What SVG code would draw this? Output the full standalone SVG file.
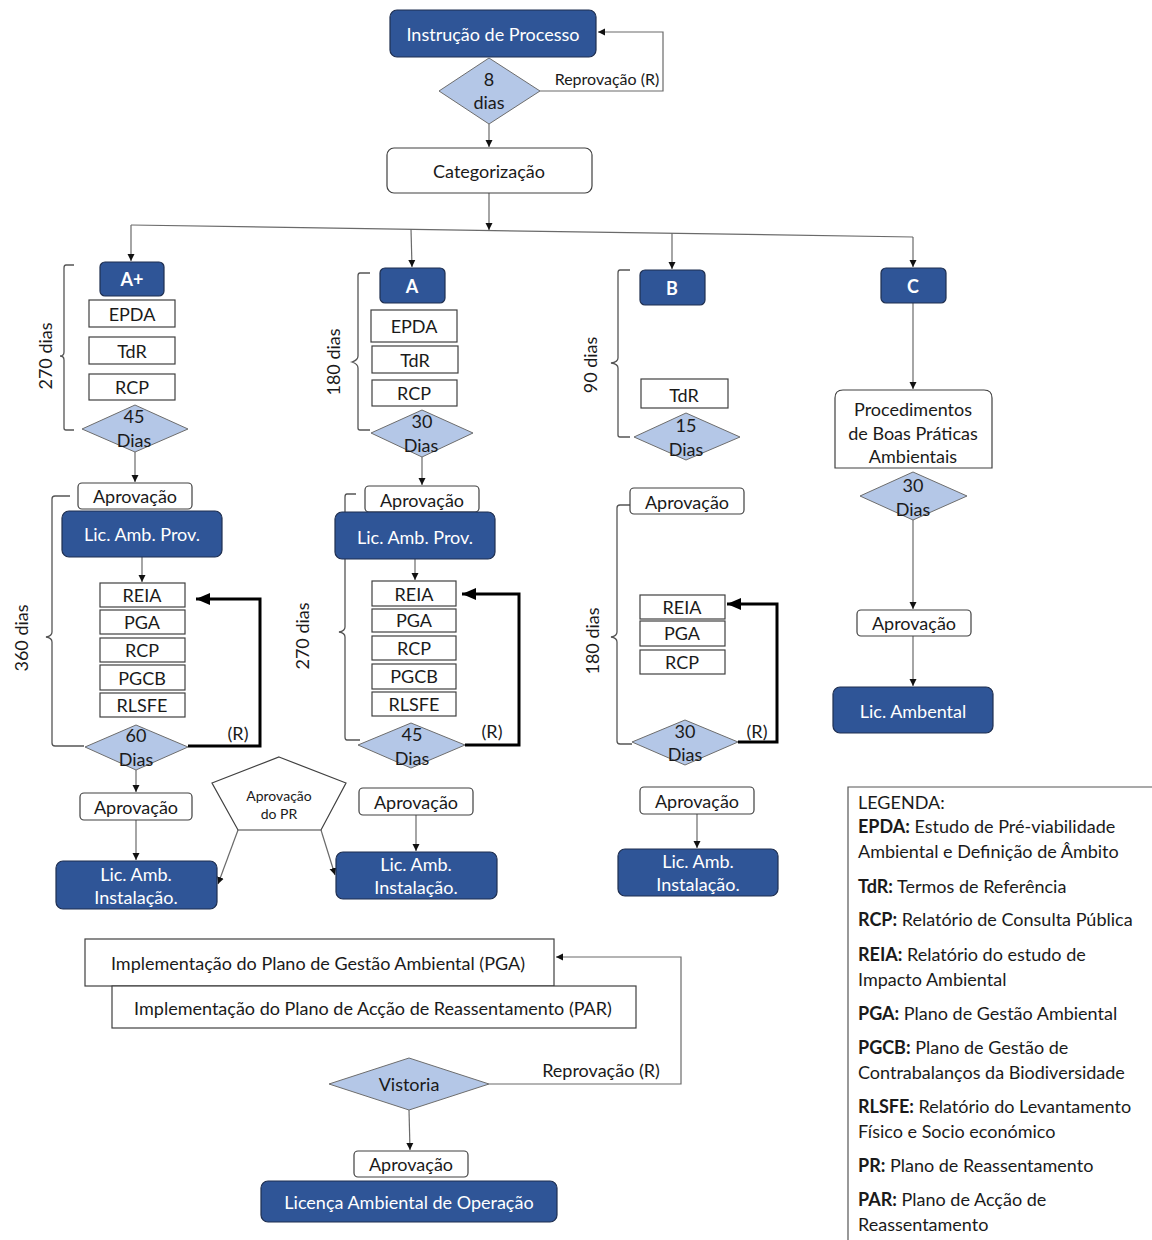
<svg xmlns="http://www.w3.org/2000/svg" width="1152" height="1240" viewBox="0 0 1152 1240">
<style>
text{font-family:Lato,"Open Sans","Noto Sans",sans-serif;font-size:18px;fill:#1a1a1a;text-anchor:middle;dominant-baseline:central}
.blue{fill:#2F5597;stroke:#1F2F50;stroke-width:1.2}
.wbox{fill:#fff;stroke:#404040;stroke-width:1.2}
.sq{fill:#fff;stroke:#404040;stroke-width:1.2}
.dia{fill:#B4C7E7;stroke:#6d6d6d;stroke-width:1}
.wt{fill:#fff}
.bt{font-weight:bold}
.c{fill:none;stroke:#6a6a6a;stroke-width:1.2}
.fb{fill:none;stroke:#000;stroke-width:3}
.br{fill:none;stroke:#555;stroke-width:1.3}
.lg{text-anchor:start;dominant-baseline:auto}
</style>
<defs>
<marker id="ar" markerWidth="8" markerHeight="8" refX="7" refY="4" orient="auto" markerUnits="userSpaceOnUse"><path d="M0,0.5 L7,4 L0,7.5 Z" fill="#111"/></marker>
<marker id="arb" markerWidth="16" markerHeight="14" refX="14" refY="7" orient="auto" markerUnits="userSpaceOnUse"><path d="M0,1 L14,7 L0,13 Z" fill="#000"/></marker>
</defs>

<g id="connectors">
<path class="c" d="M540,91 H663 V32 H598" marker-end="url(#ar)"/>
<path class="c" d="M489,124 V147" marker-end="url(#ar)"/>
<path class="c" d="M489,193 V230" marker-end="url(#ar)"/>
<path class="c" d="M131,225 L913,237"/>
<path class="c" d="M131,225 V261" marker-end="url(#ar)"/>
<path class="c" d="M411,229 L412,267" marker-end="url(#ar)"/>
<path class="c" d="M672,233 V269" marker-end="url(#ar)"/>
<path class="c" d="M913,237 V267" marker-end="url(#ar)"/>
<path class="c" d="M135,452 V482" marker-end="url(#ar)"/>
<path class="c" d="M142,557 V582" marker-end="url(#ar)"/>
<path class="fb" d="M188,746 H260 V599 H196" marker-end="url(#arb)"/>
<path class="c" d="M136,770 V792" marker-end="url(#ar)"/>
<path class="c" d="M136,820 V860" marker-end="url(#ar)"/>
<path class="c" d="M238,830 L218,884" marker-end="url(#ar)"/>
<path class="c" d="M321,830 L335,875" marker-end="url(#ar)"/>
<path class="c" d="M422,457 V485" marker-end="url(#ar)"/>
<path class="c" d="M415,559 V580" marker-end="url(#ar)"/>
<path class="fb" d="M465,745 H519 V594 H462" marker-end="url(#arb)"/>
<path class="c" d="M416,815 V851" marker-end="url(#ar)"/>
<path class="fb" d="M738,742 H777 V604 H727" marker-end="url(#arb)"/>
<path class="c" d="M697,814 V848" marker-end="url(#ar)"/>
<path class="c" d="M913,303 V389" marker-end="url(#ar)"/>
<path class="c" d="M913,520 V609" marker-end="url(#ar)"/>
<path class="c" d="M913,636 V686" marker-end="url(#ar)"/>
<path class="c" d="M489,1084 H681 V957 H556" marker-end="url(#ar)"/>
<path class="c" d="M409,1110 L410,1150" marker-end="url(#ar)"/>
</g>

<g id="brackets">
<path class="br" d="M74,265 H66 Q64,265 64,268 V352 Q64,356 60,356 Q64,356 64,360 V428 Q64,430 66,430 H74"/>
<path class="br" d="M370,273 H360 Q358,273 358,276 V356 Q358,360 352,362 Q358,364 358,368 V428 Q358,430 360,430 H370"/>
<path class="br" d="M630,270 H620 Q618,270 618,273 V358 Q618,362 611,363 Q618,364 618,368 V435 Q618,437 620,437 H630"/>
<path class="br" d="M70,496 H55 Q52,496 52,499 V632 Q52,636 46,637 Q52,638 52,642 V743 Q52,746 55,746 H84"/>
<path class="br" d="M356,494 H347 Q345,494 345,497 V627 Q345,631 339,632 Q345,633 345,637 V737 Q345,740 347,740 H360"/>
<path class="br" d="M630,505 H620 Q617,505 617,508 V632 Q617,636 611,637 Q617,638 617,642 V741 Q617,744 620,744 H632"/>
<text transform="translate(45,356) rotate(-90)">270 dias</text>
<text transform="translate(333,362) rotate(-90)">180 dias</text>
<text transform="translate(590,365) rotate(-90)">90 dias</text>
<text transform="translate(21,638) rotate(-90)">360 dias</text>
<text transform="translate(302,636) rotate(-90)">270 dias</text>
<text transform="translate(592,641) rotate(-90)">180 dias</text>
</g>

<g id="labels">
<text x="607" y="78" style="font-size:16px">Reprovação (R)</text>
<text x="238" y="733">(R)</text>
<text x="492" y="731">(R)</text>
<text x="757" y="731">(R)</text>
<text x="601" y="1070">Reprovação (R)</text>
</g>

<g id="n-instrucao"><rect class="blue" x="390" y="10" width="206" height="47" rx="7"/><text class="wt" x="493" y="34">Instrução de Processo</text></g>
<g id="n-8dias"><polygon class="dia" points="489,58 540,91 489,124 439,91"/><text x="489" y="79">8</text><text x="489" y="102">dias</text></g>
<g id="n-categorizacao"><rect class="wbox" x="387" y="148" width="205" height="45" rx="7"/><text x="489" y="171">Categorização</text></g>

<g id="n-Aplus"><rect class="blue" x="100" y="262" width="64" height="34" rx="5"/><text class="wt bt" x="132" y="279">A+</text></g>
<g id="n-A"><rect class="blue" x="380" y="268" width="65" height="35" rx="5"/><text class="wt bt" x="412" y="286">A</text></g>
<g id="n-B"><rect class="blue" x="640" y="270" width="65" height="35" rx="5"/><text class="wt bt" x="672" y="288">B</text></g>
<g id="n-C"><rect class="blue" x="881" y="268" width="65" height="35" rx="5"/><text class="wt bt" x="913" y="286">C</text></g>

<g id="n-ap-epda"><rect class="sq" x="89" y="300" width="86" height="27"/><text x="132" y="314">EPDA</text></g>
<g id="n-ap-tdr"><rect class="sq" x="89" y="337" width="86" height="27"/><text x="132" y="351">TdR</text></g>
<g id="n-ap-rcp"><rect class="sq" x="89" y="374" width="86" height="26"/><text x="132" y="387">RCP</text></g>
<g id="n-ap-45"><polygon class="dia" points="135,405 188,429 135,452 82,429"/><text x="134" y="416">45</text><text x="134" y="440">Dias</text></g>
<g id="n-ap-aprov1"><rect class="wbox" x="78" y="483" width="114" height="26" rx="4"/><text x="135" y="496">Aprovação</text></g>
<g id="n-ap-lap"><rect class="blue" x="62" y="511" width="160" height="46" rx="7"/><text class="wt" x="142" y="534">Lic. Amb. Prov.</text></g>
<g id="n-ap-reia"><rect class="sq" x="100" y="583" width="85" height="24"/><text x="142" y="595">REIA</text></g>
<g id="n-ap-pga"><rect class="sq" x="100" y="610" width="85" height="24"/><text x="142" y="622">PGA</text></g>
<g id="n-ap-rcp2"><rect class="sq" x="100" y="638" width="85" height="24"/><text x="142" y="650">RCP</text></g>
<g id="n-ap-pgcb"><rect class="sq" x="100" y="665" width="85" height="25"/><text x="142" y="678">PGCB</text></g>
<g id="n-ap-rlsfe"><rect class="sq" x="100" y="693" width="85" height="24"/><text x="142" y="705">RLSFE</text></g>
<g id="n-ap-60"><polygon class="dia" points="136,725 188,747 136,770 85,747"/><text x="136" y="735">60</text><text x="136" y="759">Dias</text></g>
<g id="n-ap-aprov2"><rect class="wbox" x="80" y="793" width="112" height="27" rx="4"/><text x="136" y="807">Aprovação</text></g>
<g id="n-ap-lai"><rect class="blue" x="56" y="861" width="161" height="48" rx="7"/><text class="wt" x="136" y="874">Lic. Amb.</text><text class="wt" x="136" y="897">Instalação.</text></g>

<g id="n-aprov-pr"><polygon class="sq" points="279,757 346,783 321,830 238,830 212,783"/><text x="279" y="795" style="font-size:14px">Aprovação</text><text x="279" y="813" style="font-size:14px">do PR</text></g>

<g id="n-a-epda"><rect class="sq" x="371" y="310" width="86" height="32"/><text x="414" y="326">EPDA</text></g>
<g id="n-a-tdr"><rect class="sq" x="372" y="346" width="86" height="27"/><text x="415" y="360">TdR</text></g>
<g id="n-a-rcp"><rect class="sq" x="372" y="380" width="85" height="26"/><text x="414" y="393">RCP</text></g>
<g id="n-a-30"><polygon class="dia" points="422,410 473,433 422,457 371,433"/><text x="422" y="421">30</text><text x="421" y="445">Dias</text></g>
<g id="n-a-aprov1"><rect class="wbox" x="365" y="486" width="114" height="26" rx="4"/><text x="422" y="500">Aprovação</text></g>
<g id="n-a-lap"><rect class="blue" x="335" y="512" width="160" height="47" rx="7"/><text class="wt" x="415" y="537">Lic. Amb. Prov.</text></g>
<g id="n-a-reia"><rect class="sq" x="372" y="581" width="84" height="25"/><text x="414" y="594">REIA</text></g>
<g id="n-a-pga"><rect class="sq" x="372" y="609" width="84" height="23"/><text x="414" y="620">PGA</text></g>
<g id="n-a-rcp2"><rect class="sq" x="372" y="636" width="84" height="24"/><text x="414" y="648">RCP</text></g>
<g id="n-a-pgcb"><rect class="sq" x="372" y="664" width="84" height="25"/><text x="414" y="676">PGCB</text></g>
<g id="n-a-rlsfe"><rect class="sq" x="372" y="692" width="84" height="24"/><text x="414" y="704">RLSFE</text></g>
<g id="n-a-45"><polygon class="dia" points="411,723 465,745 411,768 358,745"/><text x="412" y="734">45</text><text x="412" y="758">Dias</text></g>
<g id="n-a-aprov2"><rect class="wbox" x="359" y="788" width="114" height="27" rx="4"/><text x="416" y="802">Aprovação</text></g>
<g id="n-a-lai"><rect class="blue" x="336" y="852" width="161" height="47" rx="7"/><text class="wt" x="416" y="864">Lic. Amb.</text><text class="wt" x="416" y="887">Instalação.</text></g>

<g id="n-b-tdr"><rect class="sq" x="641" y="379" width="87" height="29"/><text x="684" y="395">TdR</text></g>
<g id="n-b-15"><polygon class="dia" points="686,413 740,437 686,460 634,437"/><text x="686" y="425">15</text><text x="686" y="449">Dias</text></g>
<g id="n-b-aprov1"><rect class="wbox" x="630" y="488" width="114" height="26" rx="4"/><text x="687" y="502">Aprovação</text></g>
<g id="n-b-reia"><rect class="sq" x="640" y="595" width="85" height="24"/><text x="682" y="607">REIA</text></g>
<g id="n-b-pga"><rect class="sq" x="640" y="621" width="85" height="25"/><text x="682" y="633">PGA</text></g>
<g id="n-b-rcp"><rect class="sq" x="640" y="650" width="85" height="24"/><text x="682" y="662">RCP</text></g>
<g id="n-b-30"><polygon class="dia" points="685,720 738,742 685,765 632,742"/><text x="685" y="731">30</text><text x="685" y="754">Dias</text></g>
<g id="n-b-aprov2"><rect class="wbox" x="640" y="787" width="114" height="27" rx="4"/><text x="697" y="801">Aprovação</text></g>
<g id="n-b-lai"><rect class="blue" x="618" y="849" width="160" height="47" rx="7"/><text class="wt" x="698" y="861">Lic. Amb.</text><text class="wt" x="698" y="884">Instalação.</text></g>

<g id="n-c-proc"><path class="wbox" d="M835,468 V398 Q835,390 843,390 H984 Q992,390 992,398 V468 Z"/><text x="913" y="409">Procedimentos</text><text x="913" y="433">de Boas Práticas</text><text x="913" y="456">Ambientais</text></g>
<g id="n-c-30"><polygon class="dia" points="913,472 967,496 913,520 860,496"/><text x="913" y="485">30</text><text x="913" y="509">Dias</text></g>
<g id="n-c-aprov"><rect class="wbox" x="857" y="610" width="114" height="26" rx="4"/><text x="914" y="623">Aprovação</text></g>
<g id="n-c-la"><rect class="blue" x="833" y="687" width="160" height="46" rx="7"/><text class="wt" x="913" y="711">Lic. Ambental</text></g>

<g id="n-impl-pga"><rect class="sq" x="85" y="939" width="469" height="47"/><text x="318" y="963">Implementação do Plano de Gestão Ambiental (PGA)</text></g>
<g id="n-impl-par"><rect class="sq" x="112" y="986" width="524" height="42"/><text x="373" y="1008">Implementação do Plano de Acção de Reassentamento (PAR)</text></g>
<g id="n-vistoria"><polygon class="dia" points="409,1058 489,1084 409,1110 329,1084"/><text x="409" y="1084">Vistoria</text></g>
<g id="n-aprov-final"><rect class="wbox" x="354" y="1151" width="114" height="26" rx="4"/><text x="411" y="1164">Aprovação</text></g>
<g id="n-lao"><rect class="blue" x="261" y="1181" width="296" height="41" rx="7"/><text class="wt" x="409" y="1202">Licença Ambiental de Operação</text></g>

<g id="legend">
<path d="M1152,787 H848 V1240" fill="none" stroke="#555" stroke-width="1.2"/>
<text class="lg" x="858" y="809">LEGENDA:</text>
<text class="lg" x="858" y="833"><tspan class="bt">EPDA:</tspan> Estudo de Pré-viabilidade</text>
<text class="lg" x="858" y="858">Ambiental e Definição de Âmbito</text>
<text class="lg" x="858" y="893"><tspan class="bt">TdR:</tspan> Termos de Referência</text>
<text class="lg" x="858" y="926"><tspan class="bt">RCP:</tspan> Relatório de Consulta Pública</text>
<text class="lg" x="858" y="961"><tspan class="bt">REIA:</tspan> Relatório do estudo de</text>
<text class="lg" x="858" y="986">Impacto Ambiental</text>
<text class="lg" x="858" y="1020"><tspan class="bt">PGA:</tspan> Plano de Gestão Ambiental</text>
<text class="lg" x="858" y="1054"><tspan class="bt">PGCB:</tspan> Plano de Gestão de</text>
<text class="lg" x="858" y="1079">Contrabalanços da Biodiversidade</text>
<text class="lg" x="858" y="1113"><tspan class="bt">RLSFE:</tspan> Relatório do Levantamento</text>
<text class="lg" x="858" y="1138">Físico e Socio económico</text>
<text class="lg" x="858" y="1172"><tspan class="bt">PR:</tspan> Plano de Reassentamento</text>
<text class="lg" x="858" y="1206"><tspan class="bt">PAR:</tspan> Plano de Acção de</text>
<text class="lg" x="858" y="1231">Reassentamento</text>
</g>
</svg>
